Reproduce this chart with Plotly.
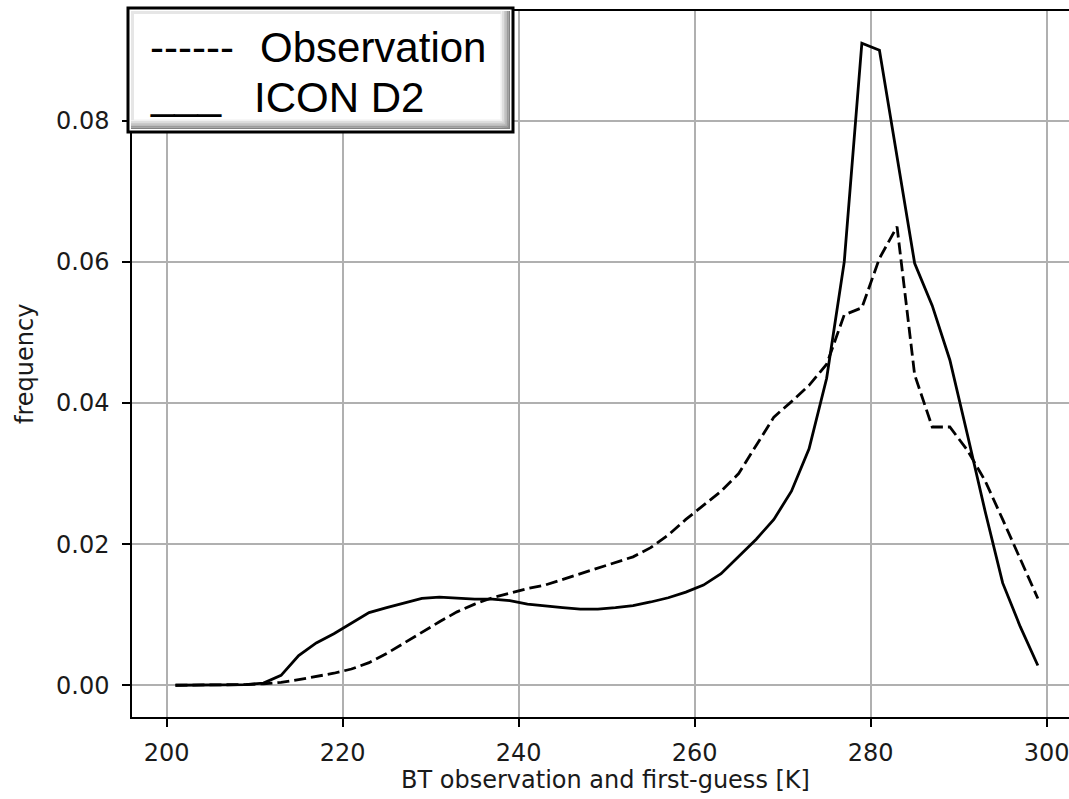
import plotly.graph_objects as go

# ---------------- data ----------------
bt = [201, 203, 205, 207, 209, 211, 213, 215, 217, 219,
      221, 223, 225, 227, 229, 231, 233, 235, 237, 239,
      241, 243, 245, 247, 249, 251, 253, 255, 257, 259,
      261, 263, 265, 267, 269, 271, 273, 275, 277, 279,
      281, 283, 285, 287, 289, 291, 293, 295, 297, 299]

icon_d2 = [0.0000, 0.0000, 0.0000, 0.0000, 0.0001, 0.0003, 0.0014, 0.0042, 0.0060, 0.0073,
           0.0088, 0.0103, 0.0110, 0.0117, 0.0123, 0.0125, 0.0123, 0.0122, 0.0122, 0.0120,
           0.0115, 0.0112, 0.0110, 0.0108, 0.0108, 0.0110, 0.0113, 0.0118, 0.0124, 0.0132,
           0.0142, 0.0158, 0.0182, 0.0207, 0.0235, 0.0275, 0.0335, 0.0435, 0.0600, 0.0910,
           0.0900, 0.0750, 0.0598, 0.0538, 0.0461, 0.0355, 0.0247, 0.0145, 0.0083, 0.0028]

observation = [0.0000, 0.0000, 0.0000, 0.0000, 0.0001, 0.0002, 0.0004, 0.0008, 0.0012, 0.0017,
               0.0023, 0.0032, 0.0045, 0.0060, 0.0076, 0.0090, 0.0104, 0.0115, 0.0124, 0.0131,
               0.0137, 0.0142, 0.0150, 0.0158, 0.0166, 0.0174, 0.0182, 0.0195, 0.0213, 0.0235,
               0.0255, 0.0275, 0.0300, 0.0340, 0.0380, 0.0402, 0.0425, 0.0455, 0.0525, 0.0535,
               0.0605, 0.0650, 0.0440, 0.0366, 0.0366, 0.0333, 0.0290, 0.0235, 0.0180, 0.0123]

x_ticks = [200, 220, 240, 260, 280, 300]
y_ticks = [0.00, 0.02, 0.04, 0.06, 0.08]
y_tick_text = ["0.00", "0.02", "0.04", "0.06", "0.08"]

# ---------------- layout geometry (pixels) ----------------
W, H = 1069, 799
L, R, T, B = 132, 0, 11, 82
PW, PH = W - L - R, H - T - B


def px(xp):
    return (xp - L) / PW


def py(yp):
    return (H - B - yp) / PH


fig = go.Figure()
fig.add_trace(go.Scatter(x=bt, y=observation, mode="lines", name="Observation",
                         line=dict(color="black", width=2.8, dash="12px,5px")))
fig.add_trace(go.Scatter(x=bt, y=icon_d2, mode="lines", name="ICON D2",
                         line=dict(color="black", width=2.8)))

tick_font = dict(family="DejaVu Sans", size=24, color="#1a1a1a")

fig.update_xaxes(range=[196.06, 302.54], tickvals=x_ticks, ticks="outside", ticklen=8,
                 tickwidth=1.5, tickcolor="black", showline=True, linecolor="black",
                 linewidth=1.5, mirror=True, showgrid=True, gridcolor="#b0b0b0",
                 gridwidth=1.5, zeroline=False, tickfont=tick_font, ticklabelstandoff=5,
                 ticklabeloverflow="allow")
fig.update_yaxes(range=[-0.0045, 0.09556], tickvals=y_ticks, ticktext=y_tick_text,
                 ticks="outside", ticklen=8, tickwidth=1.5, tickcolor="black",
                 showline=True, linecolor="black", linewidth=1.5, mirror=False,
                 showgrid=True, gridcolor="#b0b0b0", gridwidth=1.5, zeroline=False,
                 tickfont=tick_font, ticklabelstandoff=8)

shapes = []
# legend box with bevel / shadow
x0, y0, x1, y1 = 128, 8, 513, 132
shapes.append(dict(type="rect", xref="paper", yref="paper",
                   x0=px(x0), x1=px(x1), y0=py(y1), y1=py(y0),
                   fillcolor="white", line=dict(width=0)))
bevel_greys = ["#f0f0f0", "#dedede", "#cacaca", "#b4b4b4", "#9c9c9c", "#828282"]
n = len(bevel_greys)
for i, g in enumerate(bevel_greys):
    # bottom strip
    shapes.append(dict(type="rect", xref="paper", yref="paper",
                       x0=px(x0 + 3), x1=px(x1 - 3),
                       y0=py(y1 - 3 - (n - i) * 1.6), y1=py(y1 - 3 - (n - i - 1) * 1.6),
                       fillcolor=g, line=dict(width=0)))
    # right strip
    shapes.append(dict(type="rect", xref="paper", yref="paper",
                       x0=px(x1 - 3 - (n - i) * 1.6), x1=px(x1 - 3 - (n - i - 1) * 1.6),
                       y0=py(y1 - 3), y1=py(y0 + 3),
                       fillcolor=g, line=dict(width=0)))
# light top/left inner edge
shapes.append(dict(type="rect", xref="paper", yref="paper",
                   x0=px(x0 + 3), x1=px(x1 - 12), y0=py(y0 + 6), y1=py(y0 + 3),
                   fillcolor="#e6e6e6", line=dict(width=0)))
shapes.append(dict(type="rect", xref="paper", yref="paper",
                   x0=px(x0 + 3), x1=px(x0 + 6), y0=py(y1 - 12), y1=py(y0 + 3),
                   fillcolor="#e6e6e6", line=dict(width=0)))
shapes.append(dict(type="rect", xref="paper", yref="paper",
                   x0=px(x0), x1=px(x1), y0=py(y1), y1=py(y0),
                   fillcolor="rgba(0,0,0,0)", line=dict(color="black", width=3)))

leg_font = dict(family="Liberation Sans, Arial", size=42, color="black")
annotations = [
    dict(text="------", x=px(148), y=py(47), xref="paper", yref="paper",
         xanchor="left", yanchor="middle", showarrow=False, font=leg_font),
    dict(text="Observation", x=px(258), y=py(47), xref="paper", yref="paper",
         xanchor="left", yanchor="middle", showarrow=False, font=leg_font),
    dict(text="___", x=px(148), y=py(94), xref="paper", yref="paper",
         xanchor="left", yanchor="middle", showarrow=False, font=leg_font),
    dict(text="ICON D2", x=px(252), y=py(97), xref="paper", yref="paper",
         xanchor="left", yanchor="middle", showarrow=False, font=leg_font),
    # axis titles
    dict(text="BT observation and first-guess [K]", x=px(605), y=py(780),
         xref="paper", yref="paper", xanchor="center", yanchor="middle",
         showarrow=False, font=dict(family="DejaVu Sans", size=24, color="#1a1a1a")),
    dict(text="frequency", x=px(25), y=py(364), xref="paper", yref="paper",
         xanchor="center", yanchor="middle", textangle=-90,
         showarrow=False, font=dict(family="DejaVu Sans", size=24, color="#1a1a1a")),
]

fig.update_layout(width=W, height=H, margin=dict(l=L, r=R, t=T, b=B, pad=0),
                  plot_bgcolor="white", paper_bgcolor="white", showlegend=False,
                  shapes=shapes, annotations=annotations)

fig.write_html("out.html")
